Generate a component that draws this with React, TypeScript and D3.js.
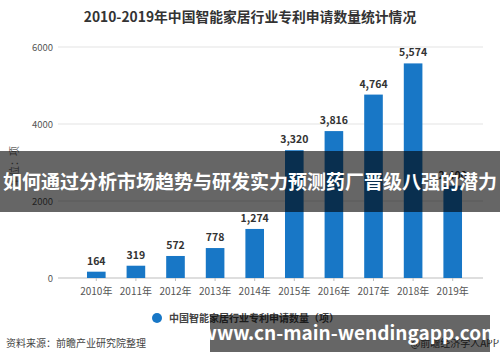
import { useEffect, useRef } from "react";
import * as d3 from "d3";

const years = ["2010年", "2011年", "2012年", "2013年", "2014年", "2015年", "2016年", "2017年", "2018年", "2019年"];
const patents = [164, 319, 572, 778, 1274, 3320, 3816, 4764, 5574, 2400];
const yTicks = [0, 2000, 4000, 6000];

const title = "2010-2019年中国智能家居行业专利申请数量统计情况";
const legendLabel = "中国智能家居行业专利申请数量（项）";
const unitLabel = "单位：项";
const sourceLabel = "资料来源：前瞻产业研究院整理";
const creditLabel = "@前瞻经济学人APP";
const bannerText = "如何通过分析市场趋势与研发实力预测药厂晋级八强的潜力";
const urlText = "www.cn-main-wendingapp.com";

const FONT = "'Noto Sans CJK SC', 'Noto Sans', sans-serif";

export default function App() {
  const ref = useRef<SVGSVGElement>(null);

  useEffect(() => {
    document.body.style.margin = "0";
    const width = 500;
    const height = 362;
    const svg = d3.select(ref.current);
    svg.selectAll("*").remove();
    svg.attr("width", width).attr("height", height).attr("viewBox", [0, 0, width, height]);

    svg.append("rect").attr("width", width).attr("height", height).attr("fill", "#fff");

    const x = d3.scaleBand().domain(years).range([66, 483]).padding(0.53);
    const y = d3.scaleLinear().domain([0, 6000]).range([278, 47]);

    svg
      .append("text")
      .attr("x", 250)
      .attr("y", 22)
      .attr("text-anchor", "middle")
      .attr("font-family", FONT)
      .attr("font-size", 13.8)
      .attr("font-weight", "bold")
      .attr("fill", "#333")
      .text(title);

    // grid + y labels
    const grid = svg.append("g");
    grid
      .selectAll("line")
      .data(yTicks)
      .join("line")
      .attr("x1", 58)
      .attr("x2", 483)
      .attr("y1", (d) => y(d))
      .attr("y2", (d) => y(d))
      .attr("stroke", (d) => (d === 0 ? "#bdbdbd" : "#e3e3e3"))
      .attr("stroke-width", 1);
    grid
      .selectAll("text")
      .data(yTicks)
      .join("text")
      .attr("x", 53)
      .attr("y", (d) => y(d) + 3.5)
      .attr("text-anchor", "end")
      .attr("font-family", FONT)
      .attr("font-size", 9.5)
      .attr("fill", "#555")
      .text((d) => d);

    svg
      .append("text")
      .attr("transform", "translate(18,166) rotate(-90)")
      .attr("text-anchor", "middle")
      .attr("font-family", FONT)
      .attr("font-size", 10)
      .attr("fill", "#666")
      .text(unitLabel);

    // x axis
    const xAxis = svg.append("g").attr("transform", `translate(0,${y(0)})`);
    xAxis
      .selectAll("line")
      .data(years)
      .join("line")
      .attr("x1", (d) => x(d)! + x.bandwidth() / 2)
      .attr("x2", (d) => x(d)! + x.bandwidth() / 2)
      .attr("y1", 0)
      .attr("y2", 3)
      .attr("stroke", "#bdbdbd");
    xAxis
      .selectAll("text")
      .data(years)
      .join("text")
      .attr("x", (d) => x(d)! + x.bandwidth() / 2)
      .attr("y", 17)
      .attr("text-anchor", "middle")
      .attr("font-family", FONT)
      .attr("font-size", 10)
      .attr("fill", "#555")
      .text((d) => d);

    // bars
    svg
      .append("g")
      .attr("fill", "#1877c6")
      .selectAll("rect")
      .data(patents)
      .join("rect")
      .attr("x", (d, i) => x(years[i])!)
      .attr("y", (d) => y(d))
      .attr("width", x.bandwidth())
      .attr("height", (d) => y(0) - y(d));

    svg
      .append("g")
      .selectAll("text")
      .data(patents)
      .join("text")
      .attr("x", (d, i) => x(years[i])! + x.bandwidth() / 2)
      .attr("y", (d) => y(d) - 7)
      .attr("text-anchor", "middle")
      .attr("font-family", FONT)
      .attr("font-size", 10.5)
      .attr("font-weight", "bold")
      .attr("fill", "#333")
      .text((d) => d3.format(",")(d));

    // legend
    svg.append("circle").attr("cx", 157).attr("cy", 318).attr("r", 5).attr("fill", "#1877c6");
    svg
      .append("text")
      .attr("x", 169)
      .attr("y", 322)
      .attr("font-family", FONT)
      .attr("font-size", 10)
      .attr("font-weight", "bold")
      .attr("fill", "#444")
      .text(legendLabel);

    svg
      .append("text")
      .attr("x", 6)
      .attr("y", 347)
      .attr("font-family", FONT)
      .attr("font-size", 10)
      .attr("fill", "#444")
      .text(sourceLabel);
    svg
      .append("text")
      .attr("x", 499)
      .attr("y", 347)
      .attr("text-anchor", "end")
      .attr("font-family", FONT)
      .attr("font-size", 10)
      .attr("fill", "#444")
      .text(creditLabel);

    // overlays
    svg
      .append("rect")
      .attr("x", 0)
      .attr("y", 151)
      .attr("width", width)
      .attr("height", 61)
      .attr("fill", "#000")
      .attr("opacity", 0.6);
    svg
      .append("text")
      .attr("x", 250)
      .attr("y", 189)
      .attr("text-anchor", "middle")
      .attr("font-family", FONT)
      .attr("font-size", 19)
      .attr("font-weight", "bold")
      .attr("fill", "#fff")
      .text(bannerText);

    svg
      .append("rect")
      .attr("x", 210)
      .attr("y", 315)
      .attr("width", 280)
      .attr("height", 37)
      .attr("fill", "#000")
      .attr("opacity", 0.6);
    svg
      .append("text")
      .attr("x", 350)
      .attr("y", 340)
      .attr("text-anchor", "middle")
      .attr("font-family", FONT)
      .attr("font-size", 19)
      .attr("font-weight", "bold")
      .attr("fill", "#fff")
      .text(urlText);
  }, []);

  return <svg ref={ref} style={{ display: "block" }} />;
}
